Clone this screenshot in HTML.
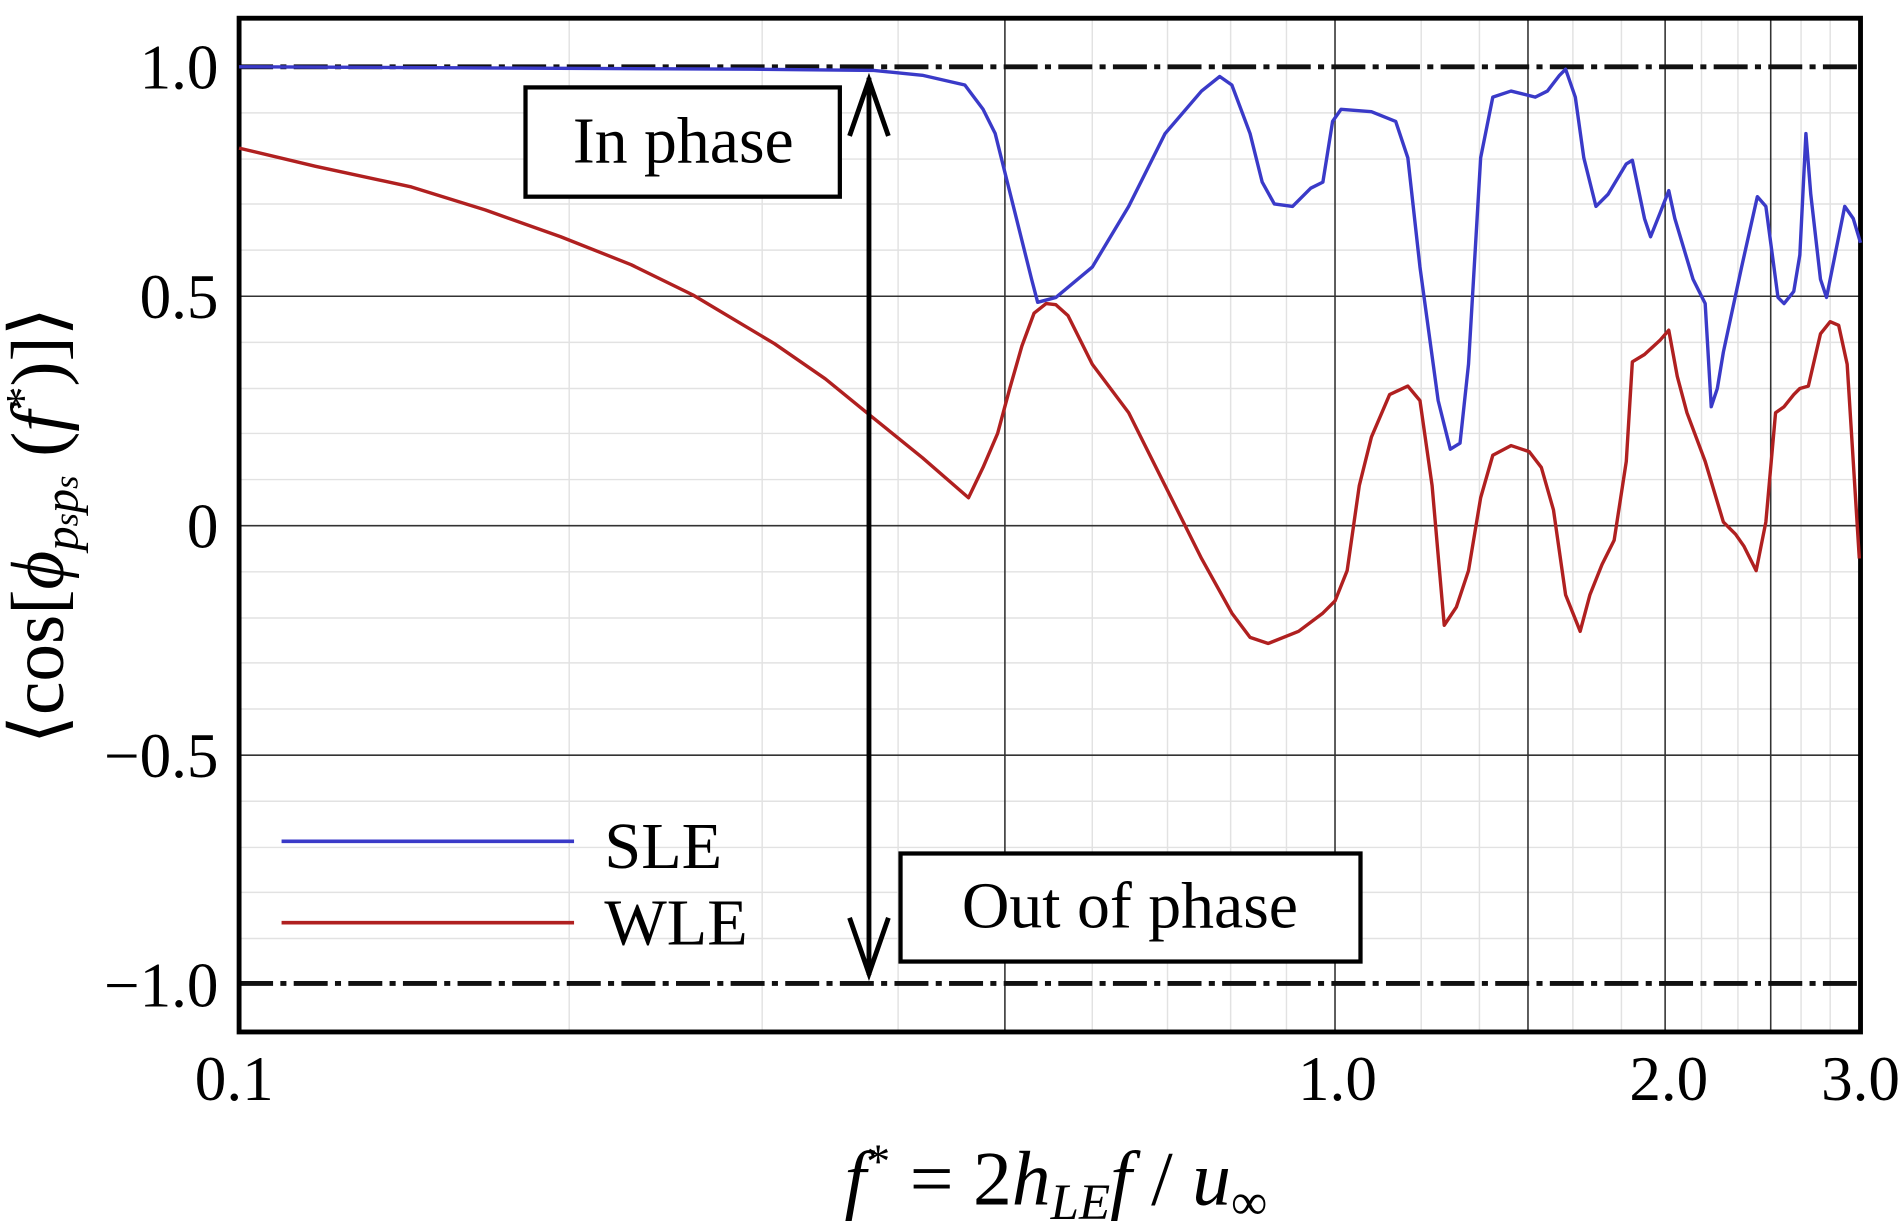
<!DOCTYPE html>
<html><head><meta charset="utf-8"><style>html,body{margin:0;padding:0;background:#fff}svg{display:block}</style></head>
<body>
<svg width="1903" height="1225" viewBox="0 0 1568 1009" preserveAspectRatio="none" xmlns="http://www.w3.org/2000/svg" font-family="Liberation Serif, serif">
<rect width="1568" height="1009" fill="#fff"/>
<g stroke="#e2e2e2" stroke-width="1.2">
<line x1="197" x2="1533" y1="93" y2="93"/><line x1="197" x2="1533" y1="131" y2="131"/><line x1="197" x2="1533" y1="168" y2="168"/><line x1="197" x2="1533" y1="206" y2="206"/>
<line x1="197" x2="1533" y1="282" y2="282"/><line x1="197" x2="1533" y1="320" y2="320"/><line x1="197" x2="1533" y1="357" y2="357"/><line x1="197" x2="1533" y1="395" y2="395"/>
<line x1="197" x2="1533" y1="471" y2="471"/><line x1="197" x2="1533" y1="509" y2="509"/><line x1="197" x2="1533" y1="546" y2="546"/><line x1="197" x2="1533" y1="584" y2="584"/>
<line x1="197" x2="1533" y1="660" y2="660"/><line x1="197" x2="1533" y1="698" y2="698"/><line x1="197" x2="1533" y1="735" y2="735"/><line x1="197" x2="1533" y1="773" y2="773"/>
<line x1="469" x2="469" y1="15" y2="850"/><line x1="628" x2="628" y1="15" y2="850"/><line x1="740" x2="740" y1="15" y2="850"/>
<line x1="900" x2="900" y1="15" y2="850"/><line x1="962" x2="962" y1="15" y2="850"/><line x1="1014" x2="1014" y1="15" y2="850"/><line x1="1060" x2="1060" y1="15" y2="850"/>
<line x1="1171" x2="1171" y1="15" y2="850"/><line x1="1219" x2="1219" y1="15" y2="850"/><line x1="1296" x2="1296" y1="15" y2="850"/><line x1="1336" x2="1336" y1="15" y2="850"/>
<line x1="1402" x2="1402" y1="15" y2="850"/><line x1="1432" x2="1432" y1="15" y2="850"/><line x1="1484" x2="1484" y1="15" y2="850"/><line x1="1508" x2="1508" y1="15" y2="850"/>
</g>
<g stroke="#333" stroke-width="1.3">
<line x1="197" x2="1533" y1="244" y2="244"/><line x1="197" x2="1533" y1="433" y2="433"/><line x1="197" x2="1533" y1="622" y2="622"/>
<line x1="828" x2="828" y1="15" y2="850"/><line x1="1100" x2="1100" y1="15" y2="850"/><line x1="1259" x2="1259" y1="15" y2="850"/><line x1="1372" x2="1372" y1="15" y2="850"/><line x1="1459" x2="1459" y1="15" y2="850"/>
</g>
<g stroke="#111" stroke-width="4" stroke-dasharray="28 6 5 6">
<line x1="197" x2="1533" y1="55" y2="55"/><line x1="197" x2="1533" y1="810" y2="810"/>
</g>
<rect x="197" y="15" width="1336" height="835" fill="none" stroke="#000" stroke-width="4"/>
<polyline fill="none" stroke="#3a3ac8" stroke-width="2.8" stroke-linejoin="round" points="197,55 620,57 720,58 760,62 795,70 810,90 820,110 830,150 840,190 850,230 855,249 870,245 900,220 930,170 960,110 990,75 1005,63 1015,70 1030,110 1040,150 1050,168 1065,170 1080,155 1090,150 1098,100 1105,90 1130,92 1150,100 1160,130 1170,220 1185,330 1195,370 1203,365 1210,300 1220,130 1230,80 1245,75 1265,80 1275,75 1285,62 1290,57 1298,80 1305,130 1315,170 1325,160 1340,135 1345,132 1355,180 1360,195 1368,175 1375,157 1380,180 1395,230 1405,250 1410,335 1415,320 1420,290 1435,220 1448,162 1455,170 1465,245 1470,250 1478,240 1483,210 1488,110 1492,160 1500,230 1505,245 1510,220 1520,170 1527,180 1533,200"/>
<polyline fill="none" stroke="#b02020" stroke-width="2.8" stroke-linejoin="round" points="197,122 260,137 339,154 400,173 462,195 520,218 571,243 638,283 680,312 718,343 760,377 798,410 810,385 822,357 832,320 842,285 852,258 862,250 870,251 880,260 900,300 930,340 960,400 990,460 1015,505 1030,525 1045,530 1070,520 1090,505 1100,495 1110,470 1120,400 1130,360 1145,325 1160,318 1170,330 1180,400 1190,515 1200,500 1210,470 1220,410 1230,375 1245,367 1260,372 1270,385 1280,420 1290,490 1302,520 1310,490 1320,465 1330,445 1340,380 1345,298 1355,292 1368,280 1375,272 1382,310 1390,340 1405,380 1420,430 1430,440 1437,450 1447,470 1455,430 1463,340 1470,335 1478,325 1483,320 1490,318 1500,275 1508,265 1515,268 1522,300 1532,460"/>
<g stroke="#000" stroke-width="4" fill="none">
<line x1="716" y1="64" x2="716" y2="803"/>
<polyline points="700,112 716,66 732,112"/>
<polyline points="700,756 716,802 732,756"/>
</g>
<rect x="433" y="72" width="259" height="90" fill="#fff" stroke="#000" stroke-width="3.5"/>
<text x="563" y="134" font-size="54" text-anchor="middle" textLength="182" lengthAdjust="spacingAndGlyphs">In phase</text>
<rect x="742" y="703" width="379" height="89" fill="#fff" stroke="#000" stroke-width="3.5"/>
<text x="931" y="764" font-size="54" text-anchor="middle" textLength="277" lengthAdjust="spacingAndGlyphs">Out of phase</text>
<line x1="232" x2="473" y1="693" y2="693" stroke="#3a3ac8" stroke-width="3"/>
<line x1="232" x2="473" y1="760" y2="760" stroke="#b02020" stroke-width="3"/>
<text x="498" y="715" font-size="54" textLength="97" lengthAdjust="spacingAndGlyphs">SLE</text>
<text x="498" y="778" font-size="54" textLength="118" lengthAdjust="spacingAndGlyphs">WLE</text>
<g font-size="52" text-anchor="end">
<text x="180" y="73">1.0</text><text x="180" y="262">0.5</text><text x="180" y="451">0</text><text x="180" y="640">−0.5</text><text x="180" y="829">−1.0</text>
</g>
<g font-size="52" text-anchor="middle">
<text x="193" y="906">0.1</text><text x="1102" y="906">1.0</text><text x="1375" y="906">2.0</text><text x="1533" y="906">3.0</text>
</g>
<text x="870" y="992" font-size="64" text-anchor="middle" font-style="italic">f<tspan dy="-22" font-size="40" font-style="normal">*</tspan><tspan dy="22" font-style="normal"> = 2</tspan>h<tspan dy="12" font-size="42">LE</tspan><tspan dy="-12">f</tspan><tspan font-style="normal"> / </tspan>u<tspan dy="12" font-size="42" font-style="normal">∞</tspan></text>
<text transform="translate(52,433) rotate(-90)" font-size="62" text-anchor="middle">⟨cos[<tspan font-style="italic">ϕ</tspan><tspan dy="12" font-size="40" font-style="italic">p<tspan font-size="28">s</tspan>p<tspan font-size="28">s</tspan></tspan><tspan dy="-12"> (</tspan><tspan font-style="italic">f</tspan><tspan dy="-20" font-size="40">*</tspan><tspan dy="20">)]⟩</tspan></text>
</svg>
</body></html>
